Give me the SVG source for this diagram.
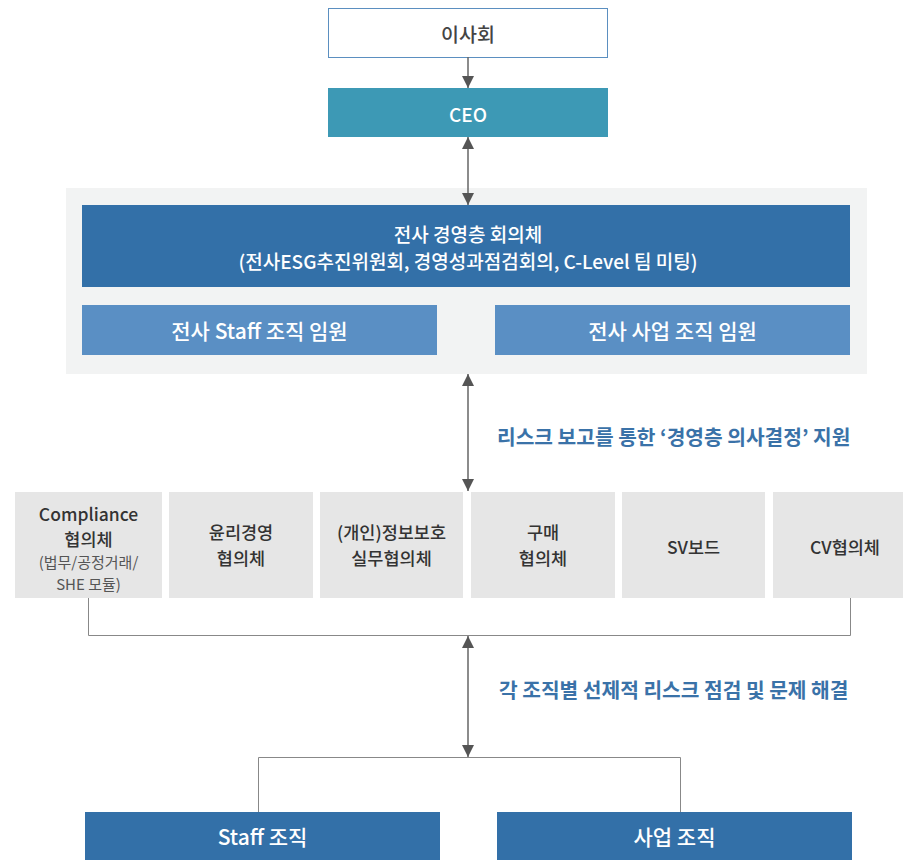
<svg xmlns="http://www.w3.org/2000/svg" width="903" height="860" viewBox="0 0 903 860">
<style>
text{font-family:"Noto Sans CJK KR","Noto Sans",sans-serif;text-anchor:middle;dominant-baseline:central}
.w{fill:#fff;font-size:19px;font-weight:500}
.e{fill:#fff;font-size:21px;font-weight:500}
.d{fill:#333;font-size:17.5px;font-weight:500}
.s{fill:#555;font-size:15px;font-weight:400}
.lb{fill:#3a72a8;font-size:20.3px;font-weight:700;text-anchor:start}
.g{fill:#e6e6e6}
.c{stroke:#666;stroke-width:1.5;fill:none}
.b{stroke:#888;stroke-width:1;fill:none}
</style>
<defs>
<marker id="ae" markerUnits="userSpaceOnUse" markerWidth="12" markerHeight="14" refX="12" refY="6" orient="auto-start-reverse" viewBox="0 0 12 12">
<path d="M0,0 L12,6 L0,12 Z" fill="#555"/>
</marker>
</defs>
<g id="board"><rect x="328.5" y="8.5" width="279" height="49" fill="#fff" stroke="#5b8fc0" stroke-width="1"/><text x="468" y="33" class="d" style="fill:#444;font-size:19.5px">이사회</text></g>
<g id="ceo"><rect x="328" y="88" width="280" height="49" fill="#3d99b5"/><text x="468" y="113" class="w">CEO</text></g>
<g id="panel"><rect x="66" y="188" width="801" height="186" fill="#f2f3f3"/></g>
<g id="mgmt"><rect x="82" y="205" width="768" height="82" fill="#3370a8"/><text x="468" y="233" class="w">전사 경영층 회의체</text><text x="468" y="260" class="w">(전사ESG추진위원회, 경영성과점검회의, C-Level 팀 미팅)</text></g>
<g id="staffexec"><rect x="82" y="305" width="355" height="50" fill="#5a8fc4"/><text x="259.5" y="330" class="e">전사 Staff 조직 임원</text></g>
<g id="bizexec"><rect x="495" y="305" width="355" height="50" fill="#5a8fc4"/><text x="672.5" y="330" class="e">전사 사업 조직 임원</text></g>
<g id="compliance"><rect class="g" x="15" y="492" width="147" height="106"/><text x="88.5" y="513" class="d">Compliance</text><text x="88.5" y="538.5" class="d">협의체</text><text x="88.5" y="561.5" class="s">(법무/공정거래/</text><text x="88.5" y="583.5" class="s">SHE 모듈)</text></g>
<g id="ethics"><rect class="g" x="169" y="492" width="144" height="106"/><text x="241" y="531.5" class="d">윤리경영</text><text x="241" y="557" class="d">협의체</text></g>
<g id="privacy"><rect class="g" x="320" y="492" width="143" height="106"/><text x="391.5" y="531.5" class="d">(개인)정보보호</text><text x="391.5" y="557" class="d">실무협의체</text></g>
<g id="purchase"><rect class="g" x="471" y="492" width="144" height="106"/><text x="543" y="531.5" class="d">구매</text><text x="543" y="557" class="d">협의체</text></g>
<g id="svboard"><rect class="g" x="622" y="492" width="143" height="106"/><text x="693.5" y="546" class="d">SV보드</text></g>
<g id="cv"><rect class="g" x="773" y="492" width="144" height="106"/><text x="845" y="546" class="d">CV협의체</text></g>
<g id="stafforg"><rect x="85" y="812" width="355" height="48" fill="#3370a8"/><text x="262.5" y="836" class="e">Staff 조직</text></g>
<g id="bizorg"><rect x="497" y="812" width="355" height="48" fill="#3370a8"/><text x="674.5" y="836" class="e">사업 조직</text></g>
<g id="connectors">
<line class="c" x1="468" y1="57" x2="468" y2="88" marker-end="url(#ae)"/>
<line class="c" x1="468" y1="137" x2="468" y2="205" marker-start="url(#ae)" marker-end="url(#ae)"/>
<line class="c" x1="468" y1="374" x2="468" y2="491" marker-start="url(#ae)" marker-end="url(#ae)"/>
<path class="b" d="M88.5,598 V635.5 H850.5 V598"/>
<line class="c" x1="468" y1="636" x2="468" y2="757" marker-start="url(#ae)" marker-end="url(#ae)"/>
<path class="b" d="M258.5,812 V757.5 H680.5 V812"/>
</g>
<g id="labels">
<text x="497" y="436" class="lb">리스크 보고를 통한 ‘경영층 의사결정’ 지원</text>
<text x="499" y="689" class="lb">각 조직별 선제적 리스크 점검 및 문제 해결</text>
</g>
</svg>
